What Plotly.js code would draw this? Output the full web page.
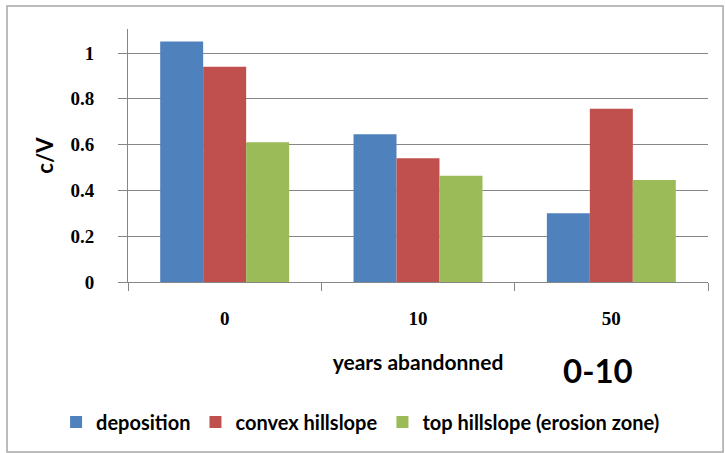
<!DOCTYPE html>
<html>
<head>
<meta charset="utf-8">
<script src="https://cdn.plot.ly/plotly-3.0.1.min.js"></script>
<style>
  html, body { margin: 0; padding: 0; background: #fff; }
  #chart { width: 725px; height: 453px; }
</style>
</head>
<body>
<div id="chart"></div>
<script>
// Years since abandonment (category axis)
const categories = ['0', '10', '50'];

// c/V ratio per slope position
const deposition = [1.05, 0.645, 0.30];
const convexHillslope = [0.94, 0.54, 0.757];
const topHillslope = [0.61, 0.464, 0.445];

const seriesNames = ['deposition', 'convex hillslope', 'top hillslope (erosion zone)'];
const seriesColors = ['#4F81BD', '#C0504D', '#9BBB59'];
const yTicks = [0, 0.2, 0.4, 0.6, 0.8, 1];
const yTickText = ['0', '0.2', '0.4', '0.6', '0.8', '1'];

const sansFont = 'Lato, "Open Sans", sans-serif';
const serifFont = '"Liberation Serif", "DejaVu Serif", serif';

const seriesValues = [deposition, convexHillslope, topHillslope];
const traces = seriesValues.map((vals, i) => ({
  type: 'bar',
  name: seriesNames[i],
  x: categories,
  y: vals,
  marker: { color: seriesColors[i], line: { width: 0 } },
  hoverinfo: 'x+y+name'
}));

const layout = {
  width: 725,
  height: 453,
  margin: { l: 128, r: 17, t: 29, b: 171 },
  paper_bgcolor: '#ffffff',
  plot_bgcolor: '#ffffff',
  barmode: 'group',
  bargap: 0.333,
  bargroupgap: 0,
  showlegend: true,
  legend: {
    orientation: 'h',
    x: -0.124, xanchor: 'left',
    y: -0.553, yanchor: 'middle',
    font: { family: sansFont, size: 20, color: '#000', weight: 'bold' },
    itemwidth: 30,
    tracegroupgap: 0
  },
  xaxis: {
    type: 'category',
    showgrid: false,
    showline: true,
    linecolor: '#868686',
    linewidth: 1,
    ticks: 'outside',
    tickson: 'boundaries',
    ticklen: 8,
    tickcolor: '#868686',
    ticklabelstandoff: 19,
    tickfont: { family: serifFont, size: 19, color: '#000', weight: 'bold' },
    title: {
      text: 'years abandonned',
      font: { family: sansFont, size: 21, color: '#000', weight: 'bold' },
      standoff: 27
    }
  },
  yaxis: {
    range: [0, 1.105],
    tickvals: yTicks,
    ticktext: yTickText,
    showgrid: true,
    gridcolor: '#868686',
    gridwidth: 1,
    zeroline: false,
    showline: true,
    linecolor: '#868686',
    linewidth: 1,
    ticks: 'outside',
    ticklen: 9,
    tickcolor: '#868686',
    ticklabelstandoff: 20,
    tickfont: { family: serifFont, size: 19, color: '#000', weight: 'bold' },
    title: {
      text: 'c/V',
      font: { family: sansFont, size: 22, color: '#000', weight: 'bold' },
      standoff: 10
    }
  },
  annotations: [{
    text: '<b>0-10</b>',
    xref: 'paper', yref: 'paper',
    x: 0.81, y: -0.348,
    xanchor: 'center', yanchor: 'middle',
    showarrow: false,
    font: { family: sansFont, size: 33, color: '#000' }
  }],
  shapes: [{
    type: 'rect',
    xref: 'paper', yref: 'paper',
    x0: -0.2086, x1: 1.026,
    y0: -0.672, y1: 1.091,
    line: { color: '#a6a6a6', width: 1.5 },
    fillcolor: 'rgba(0,0,0,0)',
    layer: 'below'
  }]
};

Plotly.newPlot('chart', traces, layout, { displayModeBar: false, staticPlot: true });
</script>
</body>
</html>
